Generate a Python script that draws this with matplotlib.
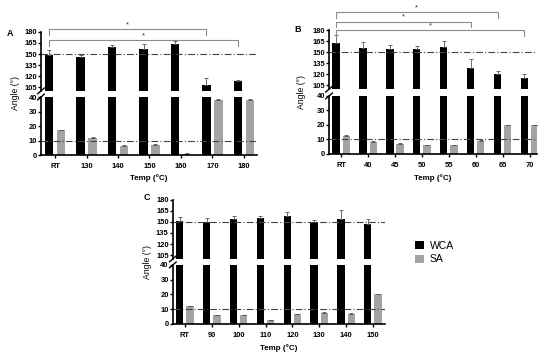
import matplotlib
matplotlib.use("Agg")
import matplotlib.pyplot as plt
from matplotlib.patches import Patch
from matplotlib.lines import Line2D
import numpy as np

plt.rcParams['font.family'] = ['Liberation Sans', 'DejaVu Sans']

# panel A
a_labels = ['RT', '130', '140', '150', '160', '170', '180']
a_wca = [149, 146, 159, 157, 163, 108, 113]
a_wca_err = [6, 3, 3, 7, 5, 9, 2]
a_sa = [17, 12, 6.5, 7, 1, 38, 38]
a_sa_err = [0.4, 0.4, 0.4, 0.4, 0.3, 0.8, 0.8]
a_sig = [(0, 5, 183.5, '*'), (0, 6, 168.5, '*')]

# panel B
b_labels = ['RT', '40', '45', '50', '55', '60', '65', '70']
b_wca = [163, 156, 154, 155, 157, 129, 120, 115]
b_wca_err = [10, 8, 6, 4, 8, 12, 5, 6]
b_sa = [12.5, 8.5, 7, 6, 6, 9, 20, 20]
b_sa_err = [0.6, 0.4, 0.3, 0.3, 0.3, 0.4, 0.3, 0.3]
b_sig = [(0, 6, 204, '*'), (0, 5, 191.5, '*'), (0, 7, 180, '*')]

# panel C
c_labels = ['RT', '90', '100', '110', '120', '130', '140', '150']
c_wca = [151, 150, 154, 155, 158, 150, 154, 147]
c_wca_err = [5, 5, 4, 3, 6, 3, 12, 7]
c_sa = [12, 6, 6, 2.5, 6.5, 7.5, 7, 20]
c_sa_err = [0.5, 0.3, 0.3, 0.3, 0.3, 0.3, 0.3, 0.4]
c_sig = []

BLACK = '#000000'
GREY = '#a3a3a3'
ERR = '#555555'
FS = 5.4


def panel(fig, rect_top, rect_bot, labels, wca, wca_err, sa, sa_err, sig,
          letter, letter_xy, ylab_x, xlab_y, xmax_pad):
    n = len(labels)
    x = np.arange(n)
    off, w = 0.19, 0.27
    axt = fig.add_axes(rect_top)
    axb = fig.add_axes(rect_bot)
    for ax in (axt, axb):
        ax.bar(x - off, wca, w, color=BLACK)
        ax.bar(x + off, sa, w, color=GREY)
        ax.errorbar(x - off, wca, yerr=[np.zeros(n), wca_err], fmt='none',
                    ecolor=ERR, elinewidth=0.6, capsize=1.6, capthick=0.6)
        ax.errorbar(x + off, sa, yerr=[np.zeros(n), sa_err], fmt='none',
                    ecolor='#555555', elinewidth=0.6, capsize=1.6, capthick=0.6)
        ax.set_xlim(-0.45, n - 1 + xmax_pad)
        for s in ('top', 'right'):
            ax.spines[s].set_visible(False)
        ax.spines['left'].set_linewidth(1.2)
        ax.spines['bottom'].set_linewidth(1.2)
        ax.tick_params(labelsize=FS, width=1.0, length=2, pad=1)
    axt.set_ylim(100, 180)
    axt.set_yticks([105, 120, 135, 150, 165, 180])
    axt.spines['bottom'].set_visible(False)
    axt.set_xticks([])
    axt.axhline(150, color='#444444', lw=0.8, dashes=(6, 2, 1, 2))
    for t in axt.get_yticklabels():
        t.set_fontweight('bold')

    axb.set_ylim(0, 40)
    axb.set_yticks([0, 10, 20, 30, 40])
    axb.set_xticks(x)
    axb.set_xticklabels(labels, fontweight='bold')
    axb.tick_params(axis='x', length=2.5, pad=3)
    axb.axhline(10, color='#444444', lw=0.8, dashes=(6, 2, 1, 2))
    for t in axb.get_yticklabels():
        t.set_fontweight('bold')

    # break marks on the left spine
    for yy in (rect_top[1], rect_bot[1] + rect_bot[3]):
        fig.add_artist(Line2D([rect_top[0] - 0.006, rect_top[0] + 0.006],
                              [yy - 0.008, yy + 0.008], color='black', lw=1.0))

    # significance brackets
    for i0, i1, yb, star in sig:
        xs = [i0 - off, i0 - off, i1 - off, i1 - off]
        ys = [yb - 8, yb, yb, yb - 8]
        axt.plot(xs, ys, color='#8c8c8c', lw=0.8, clip_on=False)
        axt.text((i0 + i1) / 2 - off, yb + 1.5, star, ha='center', va='bottom',
                 fontsize=FS, color='#333333', clip_on=False)

    fig.text(letter_xy[0], letter_xy[1], letter, fontsize=6.5, fontweight='bold',
             ha='center', va='center')
    ymid = (rect_bot[1] + rect_top[1] + rect_top[3]) / 2
    fig.text(ylab_x, ymid, 'Angle (°)', rotation=90, fontsize=FS + 0.8,
             ha='center', va='center')
    fig.text(rect_bot[0] + rect_bot[2] / 2, xlab_y, 'Temp (°C)', fontsize=FS + 0.4,
             fontweight='bold', ha='center', va='center')
    return axt, axb


fig = plt.figure(figsize=(5.54, 3.58), dpi=100)

panel(fig, [0.074, 0.746, 0.390, 0.165], [0.074, 0.567, 0.390, 0.162],
      a_labels, a_wca, a_wca_err, a_sa, a_sa_err, a_sig,
      'A', (10 / 554, 1 - 33 / 358), 15 / 554, 1 - 178 / 358, 0.42)
panel(fig, [0.594, 0.751, 0.375, 0.165], [0.594, 0.570, 0.375, 0.162],
      b_labels, b_wca, b_wca_err, b_sa, b_sa_err, b_sig,
      'B', (298 / 554, 1 - 30 / 358), 302 / 554, 1 - 178 / 358, 0.27)
panel(fig, [0.312, 0.277, 0.383, 0.165], [0.312, 0.095, 0.383, 0.165],
      c_labels, c_wca, c_wca_err, c_sa, c_sa_err, c_sig,
      'C', (147 / 554, 1 - 197 / 358), 148 / 554, 1 - 348 / 358, 0.45)

handles = [Patch(facecolor=BLACK, label='WCA'), Patch(facecolor=GREY, label='SA')]
fig.legend(handles=handles, loc='center left', bbox_to_anchor=(0.733, 0.295),
           frameon=False, fontsize=7.5, handlelength=0.8, handleheight=0.8,
           handletextpad=0.6, labelspacing=0.35)

fig.savefig('out.png', dpi=100)
